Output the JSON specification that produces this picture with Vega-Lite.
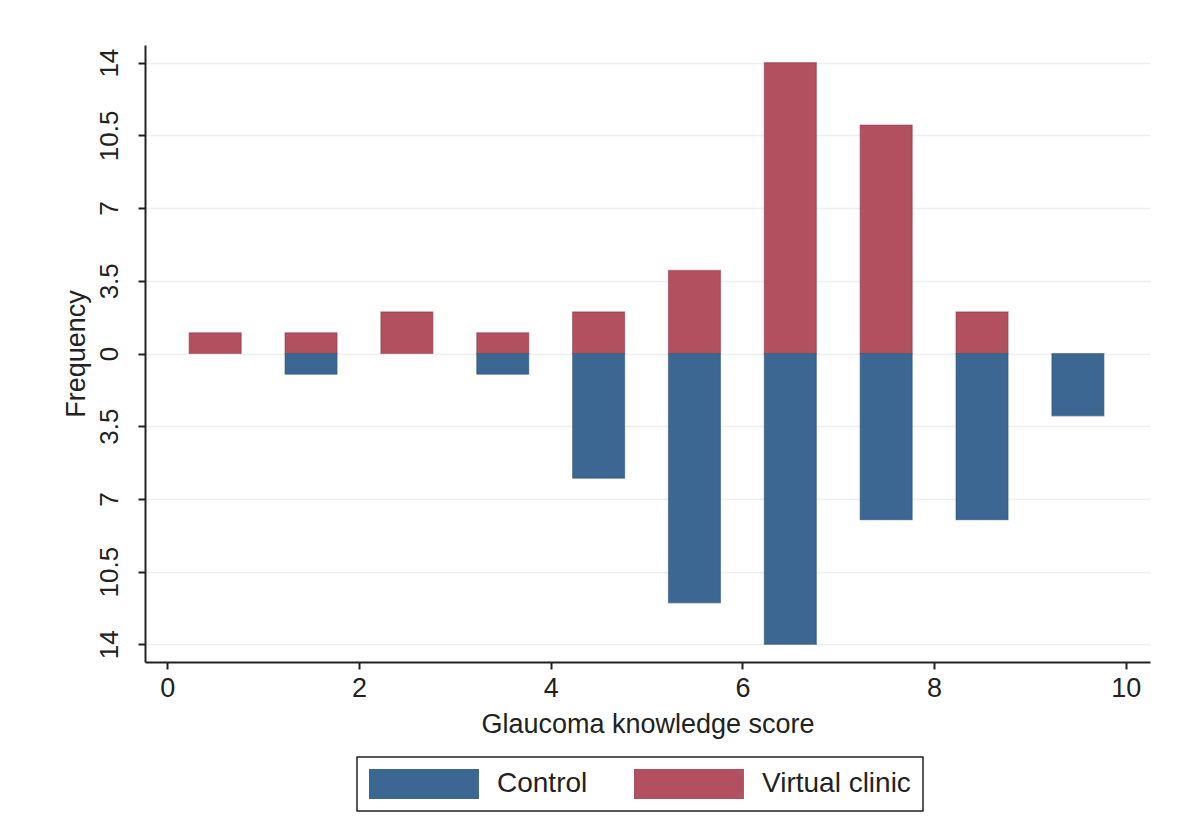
{
  "$schema": "https://vega.github.io/schema/vega-lite/v6.json",
  "autosize": "none",
  "width": 1005,
  "height": 617,
  "padding": {"left": 145, "top": 45, "right": 28, "bottom": 165},
  "background": "white",
  "config": {
    "view": {"stroke": null},
    "font": "Liberation Sans",
    "axis": {"labelFont": "Liberation Sans", "titleFont": "Liberation Sans", "labelColor": "#222", "titleColor": "#222", "titleFontWeight": "normal"},
    "legend": {"labelFont": "Liberation Sans"}
  },
  "data": {
    "values": [
      {"score": 0.5, "group": "Virtual clinic", "freq": 1},
      {"score": 1.5, "group": "Virtual clinic", "freq": 1},
      {"score": 2.5, "group": "Virtual clinic", "freq": 2},
      {"score": 3.5, "group": "Virtual clinic", "freq": 1},
      {"score": 4.5, "group": "Virtual clinic", "freq": 2},
      {"score": 5.5, "group": "Virtual clinic", "freq": 4},
      {"score": 6.5, "group": "Virtual clinic", "freq": 14},
      {"score": 7.5, "group": "Virtual clinic", "freq": 11},
      {"score": 8.5, "group": "Virtual clinic", "freq": 2},
      {"score": 1.5, "group": "Control", "freq": -1},
      {"score": 3.5, "group": "Control", "freq": -1},
      {"score": 4.5, "group": "Control", "freq": -6},
      {"score": 5.5, "group": "Control", "freq": -12},
      {"score": 6.5, "group": "Control", "freq": -14},
      {"score": 7.5, "group": "Control", "freq": -8},
      {"score": 8.5, "group": "Control", "freq": -8},
      {"score": 9.5, "group": "Control", "freq": -3}
    ]
  },
  "mark": {"type": "bar", "width": 52, "strokeWidth": 1.2, "strokeOpacity": 0.5},
  "encoding": {
    "x": {
      "field": "score",
      "type": "quantitative",
      "scale": {"domain": [-0.18, 10.2], "nice": false, "zero": false},
      "axis": {
        "title": "Glaucoma knowledge score",
        "values": [0, 2, 4, 6, 8, 10],
        "grid": false,
        "domainColor": "#222",
        "domainWidth": 2,
        "tickColor": "#222",
        "tickWidth": 2,
        "tickSize": 7,
        "labelFontSize": 27,
        "labelPadding": 6,
        "titleFontSize": 27,
        "titlePadding": 10
      }
    },
    "y": {
      "field": "freq",
      "type": "quantitative",
      "stack": null,
      "scale": {"domain": [-14.85, 14.85], "nice": false},
      "axis": {
        "title": "Frequency",
        "values": [-14, -10.5, -7, -3.5, 0, 3.5, 7, 10.5, 14],
        "labelExpr": "abs(datum.value)",
        "labelAngle": -90,
        "labelAlign": "center",
        "labelBaseline": "bottom",
        "grid": true,
        "gridColor": "#eef0f0",
        "gridWidth": 1.5,
        "domainColor": "#222",
        "domainWidth": 2,
        "tickColor": "#222",
        "tickWidth": 2,
        "tickSize": 7,
        "labelFontSize": 26,
        "labelPadding": 16,
        "titleFontSize": 27,
        "titlePadding": 6
      }
    },
    "color": {
      "field": "group",
      "type": "nominal",
      "scale": {"domain": ["Control", "Virtual clinic"], "range": ["#3b6792", "#b3505f"]},
      "legend": {
        "title": null,
        "orient": "none",
        "legendX": 212,
        "legendY": 712,
        "direction": "horizontal",
        "strokeColor": "#222",
        "padding": 12,
        "symbolType": "M-1,-1H6.33V1H-1Z",
        "symbolSize": 900,
        "symbolStrokeWidth": 0,
        "symbolOpacity": 1,
        "labelFontSize": 28,
        "labelColor": "#222",
        "labelOffset": 98,
        "columnPadding": 46,
        "encode": {"legend": {"update": {"strokeWidth": {"value": 1.5}}}}
      }
    },
    "stroke": {
      "field": "group",
      "type": "nominal",
      "scale": {"domain": ["Control", "Virtual clinic"], "range": ["#2a4d6e", "#7f3440"]},
      "legend": null
    }
  }
}
